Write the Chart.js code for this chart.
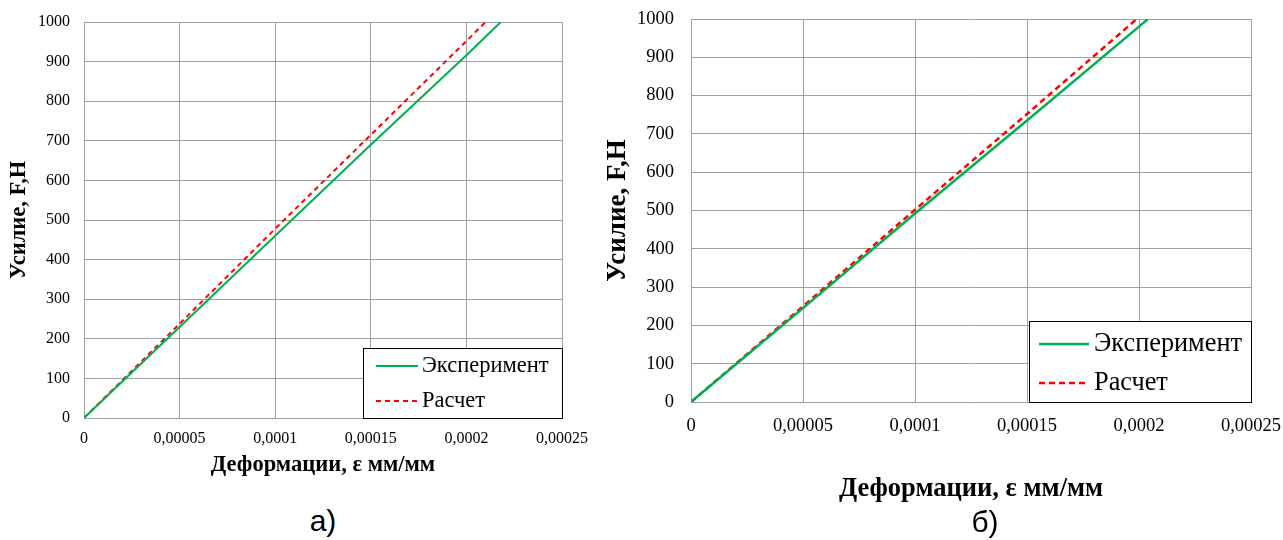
<!DOCTYPE html>
<html>
<head>
<meta charset="utf-8">
<script src="https://cdn.jsdelivr.net/npm/chart.js@4.4.1/dist/chart.umd.min.js"></script>
<style>
  html, body { margin: 0; padding: 0; background: #fff; }
  body { width: 1283px; height: 540px; position: relative; overflow: hidden; }
  .box { position: absolute; }
  .cap { position: absolute; font-family: 'Liberation Sans', Arial, sans-serif; font-size: 30px; color: #000;
         transform: translate(-50%, -50%); line-height: 1; }
</style>
</head>
<body>
<div class="box" style="left:0;top:0;width:620px;height:500px"><canvas id="chartA"></canvas></div>
<div class="box" style="left:600px;top:0;width:683px;height:540px"><canvas id="chartB"></canvas></div>
<div class="cap" style="left:323px;top:521px">а)</div>
<div class="cap" style="left:985px;top:522px">б)</div>
<script>
// Axis ticks (strain, mm/mm) and their printed labels
const strainTickValues = [0, 0.00005, 0.0001, 0.00015, 0.0002, 0.00025];
const strainTickLabels = ['0', '0,00005', '0,0001', '0,00015', '0,0002', '0,00025'];
const forceTickValues = [0, 100, 200, 300, 400, 500, 600, 700, 800, 900, 1000];

const seriesNames = ['Эксперимент', 'Расчет'];
const xTitle = 'Деформации, ε мм/мм';
const yTitle = 'Усилие, F,H';

// а) measured and calculated force vs strain
const expStrainA = [0, 0.00005, 0.0001, 0.00015, 0.0002, 0.000218];
const expForceA = [0, 230, 460, 690, 916, 1000];
const calcStrainA = [0, 0.00005, 0.0001, 0.00015, 0.0002, 0.00021];
const calcForceA = [0, 238, 478, 715, 952, 1000];

// б) measured and calculated force vs strain
const expStrainB = [0, 0.00005, 0.0001, 0.00015, 0.0002, 0.000204];
const expForceB = [0, 245, 492, 735, 980, 1000];
const calcStrainB = [0, 0.00005, 0.0001, 0.00015, 0.000199];
const calcForceB = [0, 250, 502, 752, 1000];

const pairs = (xs, ys) => xs.map((x, i) => ({ x: x, y: ys[i] }));

// Framed legend drawn in the lower right corner of the plot area
const boxLegend = {
  id: 'boxLegend',
  afterDatasetsDraw(chart, args, o) {
    const { ctx, chartArea: a } = chart;
    const x = Math.round(a.right - o.width + 1);
    const y = Math.round(a.bottom - o.height + 1);
    ctx.save();
    ctx.fillStyle = '#fff';
    ctx.fillRect(x, y, o.width, o.height);
    ctx.strokeStyle = '#000';
    ctx.lineWidth = 1;
    ctx.strokeRect(x + 0.5, y + 0.5, o.width - 1, o.height - 1);
    ctx.font = o.fontSize + 'px "Liberation Serif", "Times New Roman", serif';
    ctx.textBaseline = 'middle';
    ctx.textAlign = 'left';
    chart.data.datasets.forEach((ds, i) => {
      const cy = y + o.rows[i];
      ctx.strokeStyle = ds.borderColor;
      ctx.lineWidth = ds.borderWidth;
      ctx.setLineDash(ds.borderDash || []);
      ctx.beginPath();
      ctx.moveTo(x + o.lineFrom, cy);
      ctx.lineTo(x + o.lineTo, cy);
      ctx.stroke();
      ctx.setLineDash([]);
      ctx.fillStyle = '#000';
      ctx.fillText(ds.label, x + o.textX, cy);
    });
    ctx.restore();
  }
};

function makeChart(id, s) {
  const gridColor = '#a0a0a0';
  return new Chart(document.getElementById(id), {
    type: 'line',
    data: {
      datasets: [
        { label: seriesNames[0], data: pairs(s.expX, s.expY), borderColor: '#00b050',
          borderWidth: s.lw, pointRadius: 0, tension: 0, fill: false },
        { label: seriesNames[1], data: pairs(s.calcX, s.calcY), borderColor: '#ff0000',
          borderWidth: s.lw, borderDash: s.dash, pointRadius: 0, tension: 0, fill: false }
      ]
    },
    options: {
      responsive: true,
      maintainAspectRatio: false,
      animation: false,
      events: [],
      layout: { padding: { top: s.padTop, right: s.padRight, bottom: 0, left: 0 } },
      plugins: {
        legend: { display: false },
        tooltip: { enabled: false },
        boxLegend: s.legend
      },
      scales: {
        x: {
          type: 'linear', min: 0, max: 0.00025,
          afterBuildTicks: sc => { sc.ticks = strainTickValues.map(v => ({ value: v })); },
          afterFit: sc => { sc.height = s.xH; sc.paddingLeft = 0; sc.paddingRight = 0; },
          ticks: {
            autoSkip: false, maxRotation: 0, padding: s.xTickPad, color: '#000',
            font: { family: 'Liberation Serif', size: s.tick },
            callback: (v, i) => strainTickLabels[i]
          },
          grid: { color: gridColor, drawTicks: false, lineWidth: 1 },
          border: { color: gridColor },
          title: {
            display: true, text: xTitle, color: '#000',
            font: { family: 'Liberation Serif', size: s.xTitle, weight: 'bold', lineHeight: 1.2 },
            padding: { top: 0, bottom: s.xTitlePad }
          }
        },
        y: {
          type: 'linear', min: 0, max: 1000,
          afterBuildTicks: sc => { sc.ticks = forceTickValues.map(v => ({ value: v })); },
          afterFit: sc => { sc.width = s.yW; sc.paddingTop = 0; sc.paddingBottom = 0; },
          ticks: {
            padding: s.yTickPad, color: '#000',
            font: { family: 'Liberation Serif', size: s.tick },
            callback: v => String(v)
          },
          grid: { color: gridColor, drawTicks: false, lineWidth: 1 },
          border: { color: gridColor },
          title: {
            display: true, text: yTitle, color: '#000',
            font: { family: 'Liberation Serif', size: s.yTitle, weight: 'bold', lineHeight: 1.2 },
            padding: { top: s.yTitlePad, bottom: 0 }
          }
        }
      }
    },
    plugins: [boxLegend]
  });
}

makeChart('chartA', {
  expX: expStrainA, expY: expForceA, calcX: calcStrainA, calcY: calcForceA,
  lw: 2, dash: [5, 4], tick: 16, xTitle: 22.5, yTitle: 22.5,
  padTop: 22, padRight: 58, xH: 82, yW: 84,
  xTickPad: 11, yTickPad: 14, xTitlePad: 21.5, yTitlePad: 5.5,
  legend: { width: 200, height: 71, rows: [18, 53], lineFrom: 13, lineTo: 55, textX: 59, fontSize: 22.5 }
});

makeChart('chartB', {
  expX: expStrainB, expY: expForceB, calcX: calcStrainB, calcY: calcForceB,
  lw: 2.5, dash: [6, 4], tick: 18.5, xTitle: 26.5, yTitle: 27,
  padTop: 19, padRight: 32, xH: 138, yW: 91,
  xTickPad: 13, yTickPad: 17, xTitlePad: 35, yTitlePad: 2,
  legend: { width: 223, height: 82, rows: [23, 62], lineFrom: 10, lineTo: 60, textX: 65, fontSize: 26.3 }
});
</script>
</body>
</html>
